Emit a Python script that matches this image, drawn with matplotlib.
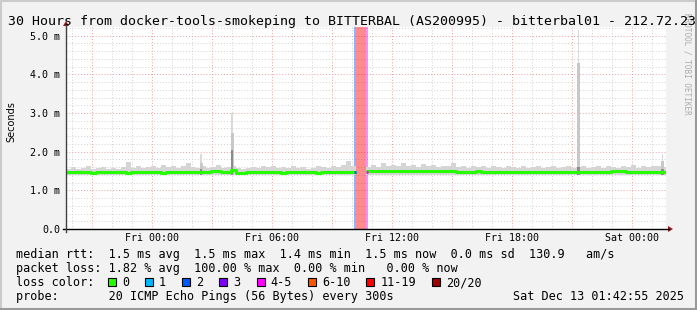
import numpy as np
import matplotlib
matplotlib.use("Agg")
import matplotlib.pyplot as plt
from matplotlib.lines import Line2D
from matplotlib.patches import Rectangle, Polygon
from datetime import datetime, timedelta

# ---------------- data ----------------
title = "30 Hours from docker-tools-smokeping to BITTERBAL (AS200995) - bitterbal01 - 212.72.23"
ylabel = "Seconds"
watermark = "RRDTOOL / TOBI OETIKER"
start_time = datetime(2025, 12, 11, 19, 42, 55)
span_hours = 30
bin_hours = 0.25
nan = np.nan

median_ms = [
    1.47, 1.47, 1.48, 1.47, 1.47, 1.46, 1.47, 1.47, 1.48, 1.47,
    1.47, 1.47, 1.46, 1.47, 1.47, 1.48, 1.47, 1.47, 1.47, 1.46,
    1.47, 1.47, 1.47, 1.48, 1.47, 1.47, 1.47, 1.47, 1.47, 1.51,
    1.49, 1.47, 1.47, 1.52, 1.45, 1.46, 1.47, 1.47, 1.47, 1.48,
    1.47, 1.47, 1.47, 1.46, 1.47, 1.47, 1.48, 1.47, 1.47, 1.47,
    1.46, 1.47, 1.47, 1.47, 1.48, 1.47, 1.47, 1.47, nan, nan,
    1.49, 1.50, 1.50, 1.51, 1.50, 1.50, 1.49, 1.50, 1.50, 1.51,
    1.50, 1.50, 1.49, 1.50, 1.50, 1.49, 1.49, 1.49, 1.48, 1.48,
    1.48, 1.48, 1.49, 1.48, 1.48, 1.48, 1.47, 1.48, 1.48, 1.48,
    1.48, 1.47, 1.48, 1.48, 1.48, 1.48, 1.47, 1.48, 1.48, 1.48,
    1.48, 1.48, 1.48, 1.48, 1.47, 1.48, 1.48, 1.48, 1.48, 1.49,
    1.50, 1.49, 1.48, 1.48, 1.48, 1.48, 1.48, 1.47, 1.48, 1.48,
]

smoke_max_ms = [
    1.56, 1.60, 1.55, 1.58, 1.62, 1.55, 1.57, 1.60, 1.56, 1.58,
    1.55, 1.60, 1.73, 1.58, 1.62, 1.57, 1.60, 1.63, 1.58, 1.65,
    1.60, 1.62, 1.58, 1.64, 1.70, 1.60, 1.58, 1.62, 1.57, 1.60,
    1.65, 1.58, 1.60, 1.62, 1.58, 1.55, 1.57, 1.60, 1.58, 1.62,
    1.60, 1.64, 1.58, 1.60, 1.57, 1.62, 1.58, 1.60, 1.55, 1.58,
    1.62, 1.60, 1.58, 1.63, 1.60, 1.66, 1.76, 1.62, nan, nan,
    1.60, 1.65, 1.60, 1.72, 1.62, 1.66, 1.63, 1.70, 1.62, 1.65,
    1.60, 1.68, 1.62, 1.66, 1.60, 1.64, 1.62, 1.70, 1.60, 1.64,
    1.58, 1.62, 1.60, 1.63, 1.58, 1.62, 1.60, 1.58, 1.63, 1.60,
    1.57, 1.62, 1.58, 1.60, 1.62, 1.58, 1.60, 1.64, 1.58, 1.60,
    1.62, 1.58, 1.60, 1.62, 1.58, 1.60, 1.64, 1.58, 1.62, 1.60,
    1.58, 1.63, 1.60, 1.65, 1.58, 1.62, 1.60, 1.64, 1.62, 1.60,
]
smoke_floor_ms = 1.40

spike_hours = [6.75, 8.30, 25.62, 29.83]
spike_top_ms = [1.94, 3.00, 5.15, 1.95]
spike_mid_ms = [1.70, 2.48, 4.30, 1.75]
spike_dark_ms = [1.55, 2.05, 1.60, 1.55]

loss_start_h = [14.40, 14.50, 15.02]
loss_end_h = [14.50, 15.02, 15.12]
loss_class = ["2", "11-19", "4-5"]
loss_median_ms = [1.47, nan, 1.47]

loss_labels = ["0", "1", "2", "3", "4-5", "6-10", "11-19", "20/20"]
loss_colors = ["#26ff00", "#00b8ff", "#0059ff", "#7e00ff", "#ff00ff",
               "#ff5500", "#ff0000", "#a10000"]

ytick_values = [0, 1, 2, 3, 4, 5]
ytick_labels = ["0.0", "1.0 m", "2.0 m", "3.0 m", "4.0 m", "5.0 m"]

stats_rtt = "median rtt:  1.5 ms avg  1.5 ms max  1.4 ms min  1.5 ms now  0.0 ms sd  130.9   am/s"
stats_loss = "packet loss: 1.82 % avg  100.00 % max  0.00 % min   0.00 % now"
loss_color_title = "loss color:"
probe_text = "probe:       20 ICMP Echo Pings (56 Bytes) every 300s"
stamp_text = "Sat Dec 13 01:42:55 2025"

# ---------------- layout helpers ----------------
W, H = 697, 310
MONO = "DejaVu Sans Mono"


def fx(x):
    return x / W


def fy(y):
    return 1 - y / H


fig = plt.figure(figsize=(W / 100, H / 100), dpi=100)
fig.patch.set_facecolor("#f2f2f2")

ax_l, ax_r, ax_t, ax_b = 66, 666, 27, 229
ax = fig.add_axes([fx(ax_l), fy(ax_b), (ax_r - ax_l) / W, (ax_b - ax_t) / H])
ax.set_facecolor("white")
px_per_ms = 38.66
ax.set_xlim(0, span_hours)
ax.set_ylim(0, (ax_b - ax_t) / px_per_ms)
for s in ax.spines.values():
    s.set_visible(False)

# grid
first_hour = (60 - start_time.minute - start_time.second / 60) / 60
hour_pos = np.arange(first_hour, span_hours, 1.0)
dot = (0, (1, 2))
for h in hour_pos:
    clock = (start_time + timedelta(hours=float(h))).hour
    if clock % 3 == 0:
        ax.axvline(h, color="#e9a0a0", lw=0.7, ls=dot, zorder=1)
    else:
        ax.axvline(h, color="#d2d2d2", lw=0.7, ls=dot, zorder=1)
for v in np.arange(0.2, 5.21, 0.2):
    if abs(v - round(v)) < 1e-6:
        ax.axhline(v, color="#e9a0a0", lw=0.7, ls=dot, zorder=1)
    else:
        ax.axhline(v, color="#d2d2d2", lw=0.7, ls=dot, zorder=1)

# loss background bands
band_alpha = 0.45
for s0, s1, c in zip(loss_start_h, loss_end_h, loss_class):
    col = loss_colors[loss_labels.index(c)]
    ax.axvspan(s0, s1, color=col, alpha=band_alpha, lw=0, zorder=2)

# smoke
edges = np.arange(len(smoke_max_ms) + 1) * bin_hours
hi = np.array(smoke_max_ms + [smoke_max_ms[-1]], dtype=float)
lo = np.full_like(hi, smoke_floor_ms)
ok = ~np.isnan(hi)
ax.fill_between(edges, lo, np.where(ok, hi, lo), step="post",
                color="#d5d5d5", lw=0, zorder=3)

# spikes
for h, t, m, d in zip(spike_hours, spike_top_ms, spike_mid_ms, spike_dark_ms):
    ax.bar(h, t - smoke_floor_ms, bottom=smoke_floor_ms, width=0.07,
           color="#dadada", lw=0, zorder=3.1)
    ax.bar(h, m - smoke_floor_ms, bottom=smoke_floor_ms, width=0.15,
           color="#c8c8c8", lw=0, zorder=3.2)
    ax.bar(h, d - smoke_floor_ms, bottom=smoke_floor_ms, width=0.12,
           color="#8c8c8c", lw=0, zorder=3.3)

# median line
med = np.array(median_ms + [median_ms[-1]], dtype=float)
ax.plot(edges, med, drawstyle="steps-post", color=loss_colors[0],
        lw=2.2, solid_capstyle="butt", zorder=4)
for s0, s1, c, m in zip(loss_start_h, loss_end_h, loss_class, loss_median_ms):
    if not np.isnan(m):
        col = loss_colors[loss_labels.index(c)]
        ax.plot([s0, min(s1, s0 + 0.12)], [m, m], color=col, lw=2.2,
                solid_capstyle="butt", zorder=5)

# ticks
label_hours = [h for h in hour_pos
               if (start_time + timedelta(hours=float(h))).hour % 6 == 0]
ax.set_xticks(label_hours)
ax.set_xticklabels([(start_time + timedelta(hours=float(h))).strftime("%a %H:%M")
                    for h in label_hours], family=MONO, fontsize=7.2)
ax.set_yticks(ytick_values)
ax.set_yticklabels(ytick_labels, family=MONO, fontsize=7.2)
ax.tick_params(axis="x", length=0, pad=3)
ax.tick_params(axis="y", length=0, pad=4.3)

# axes lines + arrows
fig.add_artist(Line2D([fx(ax_l - 3), fx(ax_r + 3)], [fy(ax_b), fy(ax_b)],
                      color="black", lw=1.0))
fig.add_artist(Line2D([fx(ax_l), fx(ax_l)], [fy(ax_b + 3), fy(ax_t - 2)],
                      color="#404040", lw=1.0))
fig.add_artist(Polygon([[fx(ax_l - 3), fy(ax_t - 1)], [fx(ax_l + 3), fy(ax_t - 1)],
                        [fx(ax_l), fy(ax_t - 6)]], closed=True,
                       color="#9b1c1c", lw=0))
fig.add_artist(Polygon([[fx(ax_r + 2), fy(ax_b - 3)], [fx(ax_r + 2), fy(ax_b + 3)],
                        [fx(ax_r + 7), fy(ax_b)]], closed=True,
                       color="#9b1c1c", lw=0))

# frame
fig.add_artist(Line2D([fx(1), fx(1)], [0, 1], color="#cbcbcb", lw=1.5))
fig.add_artist(Line2D([0, 1], [fy(0.5), fy(0.5)], color="#cbcbcb", lw=1.5))
fig.add_artist(Line2D([fx(W - 1.5), fx(W - 1.5)], [0, 1], color="#999999", lw=2.2))
fig.add_artist(Line2D([0, 1], [fy(H - 1.5), fy(H - 1.5)], color="#999999", lw=2.2))

# texts
fig.text(fx(686.5), fy(13), watermark, rotation=-90, ha="center", va="top",
         family=MONO, fontsize=5.5, color="#ababab")
fig.text(fx(8), fy(25), title, ha="left", va="baseline", family=MONO,
         fontsize=9.5, color="black")
fig.text(fx(11), fy(122), ylabel, rotation=90, ha="center", va="center",
         family="DejaVu Sans", fontsize=7.0, color="black")

char_w = 7.13
leg_x = 16
fs_leg = 8.5
fig.text(fx(leg_x), fy(258.3), stats_rtt, family=MONO, fontsize=fs_leg, va="baseline")
fig.text(fx(leg_x), fy(272), stats_loss, family=MONO, fontsize=fs_leg, va="baseline")
fig.text(fx(leg_x), fy(286), loss_color_title, family=MONO, fontsize=fs_leg, va="baseline")
fig.text(fx(leg_x), fy(300), probe_text, family=MONO, fontsize=fs_leg, va="baseline")
fig.text(fx(513), fy(300), stamp_text, family=MONO, fontsize=fs_leg, va="baseline")

bx = 108.0
for lab, col in zip(loss_labels, loss_colors):
    fig.add_artist(Rectangle((fx(bx), fy(286)), 8 / W, 8 / H, facecolor=col,
                             edgecolor="black", lw=0.8))
    fig.text(fx(bx + 14), fy(286), lab, family=MONO, fontsize=fs_leg, va="baseline")
    bx += 30 + char_w * len(lab)

fig.savefig("out.png", dpi=100, facecolor=fig.get_facecolor())
